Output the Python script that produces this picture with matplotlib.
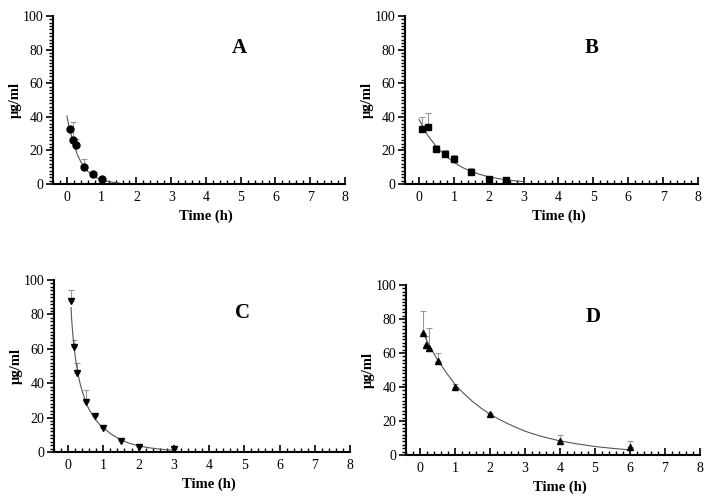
import matplotlib
matplotlib.use("Agg")
import matplotlib.pyplot as plt
from matplotlib.ticker import MultipleLocator

plt.rcParams['font.family'] = ['Liberation Serif', 'DejaVu Serif']

# -------------------------------------------
# Data
# -------------------------------------------
# Panel A (circles)
a_t = [0.083, 0.167, 0.25, 0.5, 0.75, 1.0]
a_c = [33, 26, 23, 10, 6, 3]
a_err = [0, 11, 4, 5, 1, 1]
a_fit_t = [0.0, 0.05, 0.1, 0.15, 0.2, 0.3, 0.4, 0.5, 0.6, 0.75, 0.9, 1.0, 1.2, 1.5]
a_fit_c = [40.5, 35.3, 31, 27.1, 23.5, 17.5, 13.2, 10.0, 7.6, 5.0, 3.3, 2.5, 1.4, 0.6]

# Panel B (squares)
b_t = [0.083, 0.25, 0.5, 0.75, 1.0, 1.5, 2.0, 2.5]
b_c = [33, 34, 21, 18, 15, 7, 3, 2.5]
b_err = [7, 8, 2, 2, 2, 2.5, 0.5, 0.5]
b_fit_t = [0.0, 0.25, 0.5, 0.75, 1.0, 1.25, 1.5, 1.75, 2.0, 2.25, 2.5, 2.75, 3.0]
b_fit_c = [38.5, 29, 22.2, 17, 12.8, 9.8, 7.5, 5.7, 4.3, 3.3, 2.5, 1.9, 1.4]

# Panel C (down triangles)
c_t = [0.083, 0.167, 0.25, 0.5, 0.75, 1.0, 1.5, 2.0, 3.0]
c_c = [88, 61, 46, 29, 21, 14, 6.5, 3, 1.5]
c_err = [6, 4, 6, 7, 0.5, 0.5, 0.5, 0.5, 0.5]
c_fit_t = [0.083, 0.1, 0.12, 0.14, 0.167, 0.2, 0.25, 0.3, 0.35, 0.4, 0.5, 0.6, 0.75, 0.9,
           1.0, 1.25, 1.5, 1.75, 2.0, 2.25, 2.5, 2.75, 3.0]
c_fit_c = [84, 77.5, 72, 67, 62, 56, 49, 43.5, 39, 35.5, 29, 24.5, 19.5, 15.8,
           14, 10, 7, 5, 3.6, 2.6, 1.9, 1.4, 1.0]

# Panel D (up triangles)
d_t = [0.083, 0.167, 0.25, 0.5, 1.0, 2.0, 4.0, 6.0]
d_c = [72, 65, 63, 55.5, 40, 24, 8, 5]
d_err = [13, 5, 12, 4.5, 2, 1, 4, 3]
d_fit_t = [0.083, 0.25, 0.5, 0.75, 1.0, 1.25, 1.5, 1.75, 2.0, 2.25, 2.5, 2.75, 3.0, 3.25,
           3.5, 3.75, 4.0, 4.5, 5.0, 5.5, 6.0]
d_fit_c = [72, 65, 56, 48.5, 41.5, 36.2, 31.5, 27.5, 24, 21.1, 18.5, 16.2, 14, 12.3,
           10.8, 9.5, 8.3, 6.5, 5, 3.9, 3.0]

panels = [
    ("A", a_t, a_c, a_err, a_fit_t, a_fit_c, "o", [53, 16, 292, 168]),
    ("B", b_t, b_c, b_err, b_fit_t, b_fit_c, "s", [405, 16, 293, 168]),
    ("C", c_t, c_c, c_err, c_fit_t, c_fit_c, "v", [54, 280, 296, 172]),
    ("D", d_t, d_c, d_err, d_fit_t, d_fit_c, "^", [406, 285, 294, 170]),
]

W, H = 713, 499
fig = plt.figure(figsize=(W / 100, H / 100), dpi=100)

for letter, t, c, err, ft, fc, mk, box in panels:
    x0, y0, w, h = box
    ax = fig.add_axes([x0 / W, 1 - (y0 + h) / H, w / W, h / H])

    ax.plot(ft, fc, color="#555555", lw=0.8, zorder=2)
    ax.errorbar(t, c, yerr=[[0] * len(err), err], fmt="none",
                ecolor="#999999", elinewidth=0.8, capsize=2, capthick=0.8, zorder=1)
    ax.plot(t, c, ls="none", marker=mk, color="black", ms=5, zorder=3)

    ax.set_xlim(-0.4, 8)
    ax.set_ylim(0, 100)
    ax.xaxis.set_major_locator(MultipleLocator(1))
    ax.xaxis.set_minor_locator(MultipleLocator(0.2))
    ax.yaxis.set_major_locator(MultipleLocator(20))
    ax.yaxis.set_minor_locator(MultipleLocator(2))
    ax.spines["top"].set_visible(False)
    ax.spines["right"].set_visible(False)
    ax.spines["left"].set_linewidth(1.5)
    ax.spines["bottom"].set_linewidth(1.5)
    ax.spines["bottom"].set_bounds(-0.35, 8)
    ax.tick_params(axis="y", which="major", direction="out", length=5, width=1.2, labelsize=10, pad=2)
    ax.tick_params(axis="y", which="minor", direction="out", length=3, width=1.0)
    ax.tick_params(axis="x", which="major", direction="in", length=5, width=1.2, labelsize=10, pad=5)
    ax.tick_params(axis="x", which="minor", direction="in", length=3, width=1.0)

    ax.set_xlabel("Time (h)", fontsize=10.5, fontweight="bold")
    ax.xaxis.set_label_coords((4 + 0.4) / 8.4, -0.15)
    ax.set_ylabel("µg/ml", fontsize=10.5, fontweight="bold")
    ax.yaxis.set_label_coords(-31 / w, 0.5)
    ax.text(4.95, 81, letter, fontsize=15, fontweight="bold", ha="center", va="center")

fig.savefig("out.png", dpi=100)
